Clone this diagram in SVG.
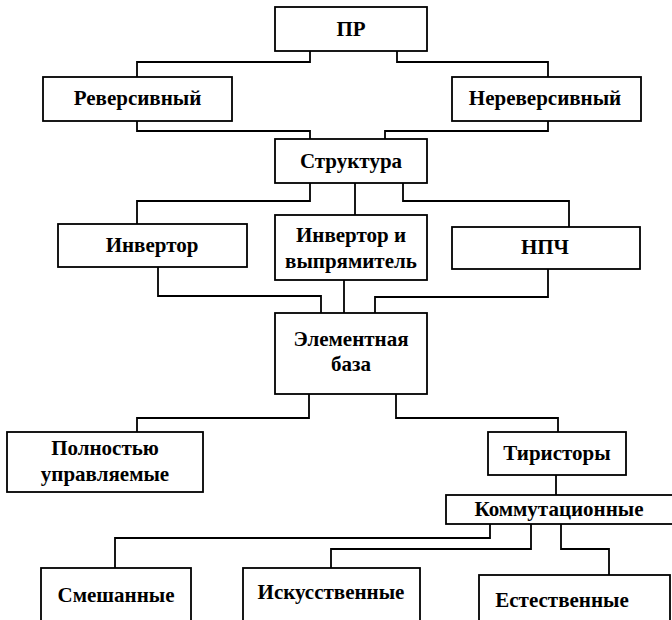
<svg xmlns="http://www.w3.org/2000/svg" width="672" height="620" viewBox="0 0 672 620">
<style>
.box{fill:#fff;stroke:#000;stroke-width:1.8}
.lbl{font-family:"Liberation Serif","Times New Roman",serif;font-weight:bold;font-size:21px;fill:#000;text-anchor:middle}
.conn path{fill:none;stroke:#000;stroke-width:1.8}
</style>
<rect width="672" height="620" fill="#fff"/>
<g class="conn" id="connectors">
<path d="M310,51 V62 H137 V77"/>
<path d="M397,51 V62 H548 V77"/>
<path d="M137,121 V131 H310 V139"/>
<path d="M548,121 V131 H385 V139"/>
<path d="M310,183 V201 H137 V224"/>
<path d="M355,183 V215"/>
<path d="M403,183 V201 H569 V227"/>
<path d="M158,267 V296 H321 V313"/>
<path d="M344,280 V313"/>
<path d="M548,269 V297 H375 V313"/>
<path d="M309,394 V418 H137 V432"/>
<path d="M396,394 V418 H558 V432"/>
<path d="M556,475 V495"/>
<path d="M490,524 V538 H115 V568"/>
<path d="M531,524 V549 H331 V568"/>
<path d="M561,524 V549 H609 V575"/>
</g>
<g id="n-pr"><rect class="box" x="275" y="7" width="152" height="44"/><text class="lbl" x="351" y="36">ПР</text></g>
<g id="n-rev"><rect class="box" x="43" y="77" width="189" height="44"/><text class="lbl" x="137.5" y="105">Реверсивный</text></g>
<g id="n-nonrev"><rect class="box" x="452" y="77" width="189" height="44"/><text class="lbl" x="545" y="105">Нереверсивный</text></g>
<g id="n-struct"><rect class="box" x="275" y="139" width="152" height="44"/><text class="lbl" x="351" y="168">Структура</text></g>
<g id="n-inv"><rect class="box" x="58" y="224" width="189" height="43"/><text class="lbl" x="152" y="252">Инвертор</text></g>
<g id="n-invrect"><rect class="box" x="275" y="215" width="152" height="65"/><text class="lbl" x="351" y="242">Инвертор и</text><text class="lbl" x="351" y="268">выпрямитель</text></g>
<g id="n-npch"><rect class="box" x="452" y="227" width="188" height="42"/><text class="lbl" x="545" y="254">НПЧ</text></g>
<g id="n-elem"><rect class="box" x="275" y="313" width="152" height="81"/><text class="lbl" x="351" y="346">Элементная</text><text class="lbl" x="351" y="371">база</text></g>
<g id="n-full"><rect class="box" x="7" y="432" width="196" height="60"/><text class="lbl" x="105" y="455">Полностью</text><text class="lbl" x="105" y="481">управляемые</text></g>
<g id="n-thyr"><rect class="box" x="488" y="432" width="138" height="43"/><text class="lbl" x="557" y="460">Тиристоры</text></g>
<g id="n-comm"><rect class="box" x="446" y="495" width="240" height="29"/><text class="lbl" x="559" y="516">Коммутационные</text></g>
<g id="n-mixed"><rect class="box" x="41" y="568" width="150" height="70"/><text class="lbl" x="116" y="602">Смешанные</text></g>
<g id="n-art"><rect class="box" x="243" y="568" width="177" height="70"/><text class="lbl" x="331" y="599">Искусственные</text></g>
<g id="n-nat"><rect class="box" x="479" y="575" width="191" height="70"/><text class="lbl" x="562" y="607">Естественные</text></g>
</svg>
